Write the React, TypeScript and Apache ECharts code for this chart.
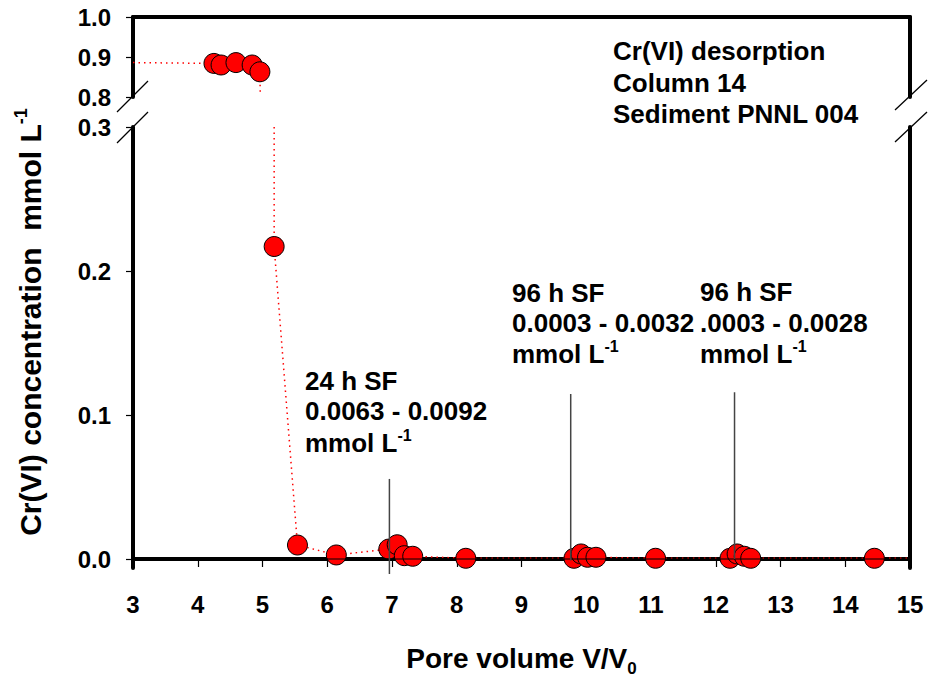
import React, { useEffect, useRef } from "react";
import * as echarts from "echarts";

// ---- data ----
const poreVolume = [4.25, 4.36, 4.59, 4.84, 4.96, 5.18, 5.54, 6.14, 6.95, 7.08, 7.19, 7.32, 8.14, 9.81, 9.92, 10.02, 10.15, 11.07, 12.22, 12.33, 12.44, 12.54, 14.45];
const concentration = [0.884, 0.88, 0.886, 0.88, 0.863, 0.217, 0.0097, 0.0028, 0.0069, 0.0099, 0.0023, 0.0019, 0.0005, 0.0005, 0.0035, 0.0012, 0.0012, 0.0005, 0.0005, 0.0035, 0.0019, 0.0005, 0.0005];

// dotted trend line ends (no symbol)
const leadIn = [3, 0.886];
const upperBreakEnd = [4.965, 0.81];
const lowerBreakStart = [5.18, 0.3];
const leadOut = [15, 0.0005];

// vertical annotation lines: x, bottom, top
const annoX = [6.96, 9.76, 12.29];
const annoBottom = [-0.0104, -0.001, 0];
const annoTop = [0.0556, 0.1146, 0.1158];

const upperTicks = [0.8, 0.9, 1.0];
const lowerTicks = [0, 0.1, 0.2, 0.3];
const xMin = 3;
const xMax = 15;

const annoLines1 = ["24 h SF", "0.0063 - 0.0092", "mmol L{sup|-1}"];
const annoLines2 = ["96 h SF", "0.0003 - 0.0032", "mmol L{sup|-1}"];
const annoLines3 = ["96 h SF", ".0003 - 0.0028", "mmol L{sup|-1}"];
const infoLines = ["Cr(VI) desorption", "Column 14", "Sediment PNNL 004"];

const FF = '"Liberation Sans", Arial, Helvetica, sans-serif';

export default function App() {
  const ref = useRef<HTMLDivElement>(null);

  useEffect(() => {
    if (!ref.current) return;
    const chart = echarts.init(ref.current, undefined, { renderer: "svg" });

    const pts = poreVolume.map((x, i) => [x, concentration[i]]);
    const upperPts = pts.filter((p) => p[1] >= 0.8);
    const lowerPts = pts.filter((p) => p[1] < 0.3);

    const noSym = (v: number[]) => ({ value: v, symbol: "none" });

    const upperData = [noSym(leadIn), ...upperPts.map((p) => ({ value: p })), noSym(upperBreakEnd)];
    const lowerData = [noSym(lowerBreakStart), ...lowerPts.map((p) => ({ value: p })), noSym(leadOut)];

    const seriesStyle = {
      type: "line",
      symbol: "circle",
      symbolSize: 20,
      showAllSymbol: true,
      itemStyle: { color: "#ff0000", borderColor: "#000", borderWidth: 1 },
      lineStyle: { color: "#ff0000", width: 1.5, type: [1.5, 4] },
      z: 2,
    };

    const bold = (size: number) => `bold ${size}px ${FF}`;

    const textLines = (lines: string[], x: number, ys: number[], size: number) =>
      lines.map((t, i) => ({
        type: "text",
        x,
        y: ys[i],
        z: 50,
        style: {
          text: t,
          font: bold(size),
          fill: "#000",
          align: "left",
          verticalAlign: "middle",
          rich: {
            sup: { font: bold(16), fill: "#000", padding: [0, 0, 16, 0] },
          },
        },
      }));

    const breakLine = (x1: number, y1: number, x2: number, y2: number) => ({
      type: "line",
      z: 50,
      shape: { x1, y1, x2, y2 },
      style: { stroke: "#000", lineWidth: 1.3 },
    });

    const axisLineStyle = { show: true, lineStyle: { color: "#000", width: 4 } };

    const option: any = {
      animation: false,
      backgroundColor: "#fff",
      grid: [
        { left: 133, right: 20, top: 17, height: 80 },
        { left: 133, right: 20, top: 127, height: 442 },
      ],
      xAxis: [
        {
          gridIndex: 0,
          type: "value",
          position: "top",
          min: xMin,
          max: xMax,
          interval: 1,
          axisLine: axisLineStyle,
          axisTick: { show: false },
          axisLabel: { show: false },
          splitLine: { show: false },
        },
        {
          gridIndex: 1,
          type: "value",
          position: "bottom",
          min: xMin,
          max: xMax,
          interval: 1,
          axisLine: axisLineStyle,
          axisTick: { show: true, inside: false, length: 8, lineStyle: { color: "#000", width: 1.2 } },
          axisLabel: { show: true, margin: 24, fontSize: 24, fontWeight: "bold", fontFamily: FF, color: "#000" },
          splitLine: { show: false },
          name: "Pore volume V/V{sub|0}",
          nameLocation: "middle",
          nameGap: 72,
          nameTextStyle: {
            fontSize: 28,
            fontWeight: "bold",
            fontFamily: FF,
            color: "#000",
            rich: {
              sub: { fontSize: 17, fontWeight: "bold", fontFamily: FF, color: "#000", padding: [20, 0, 0, 0] },
            },
          },
        },
      ],
      yAxis: [
        {
          gridIndex: 0,
          type: "value",
          position: "left",
          min: upperTicks[0],
          max: upperTicks[upperTicks.length - 1],
          interval: 0.1,
          axisLine: axisLineStyle,
          axisTick: { show: true, inside: false, length: 7, lineStyle: { color: "#000", width: 1.2 } },
          axisLabel: {
            show: true,
            margin: 22,
            fontSize: 24,
            fontWeight: "bold",
            fontFamily: FF,
            color: "#000",
            formatter: (v: number) => v.toFixed(1),
          },
          splitLine: { show: false },
        },
        {
          gridIndex: 0,
          type: "value",
          position: "right",
          min: upperTicks[0],
          max: upperTicks[upperTicks.length - 1],
          axisLine: axisLineStyle,
          axisTick: { show: false },
          axisLabel: { show: false },
          splitLine: { show: false },
        },
        {
          gridIndex: 1,
          type: "value",
          position: "left",
          min: -0.00625,
          max: lowerTicks[lowerTicks.length - 1],
          axisLine: axisLineStyle,
          axisTick: {
            show: true,
            inside: false,
            length: 7,
            customValues: lowerTicks,
            lineStyle: { color: "#000", width: 1.2 },
          },
          axisLabel: {
            show: true,
            margin: 22,
            fontSize: 24,
            fontWeight: "bold",
            fontFamily: FF,
            color: "#000",
            customValues: lowerTicks,
            formatter: (v: number) => v.toFixed(1),
          },
          splitLine: { show: false },
        },
        {
          gridIndex: 1,
          type: "value",
          position: "right",
          min: -0.00625,
          max: lowerTicks[lowerTicks.length - 1],
          axisLine: axisLineStyle,
          axisTick: { show: false },
          axisLabel: { show: false },
          splitLine: { show: false },
        },
      ],
      series: [
        { ...seriesStyle, name: "upper", xAxisIndex: 0, yAxisIndex: 0, data: upperData },
        { ...seriesStyle, name: "lower", xAxisIndex: 1, yAxisIndex: 2, data: lowerData },
        {
          type: "line",
          name: "zero",
          xAxisIndex: 1,
          yAxisIndex: 2,
          data: [[xMin, 0], [xMax, 0]],
          symbol: "none",
          lineStyle: { color: "#000", width: 1, type: "solid" },
          z: 5,
        },
        ...annoX.map((x, i) => ({
          type: "line",
          name: "anno" + i,
          xAxisIndex: 1,
          yAxisIndex: 2,
          clip: false,
          data: [[x, annoBottom[i]], [x, annoTop[i]]],
          symbol: "none",
          lineStyle: { color: "#444", width: 1.5, type: "solid" },
          z: 6,
        })),
      ],
      graphic: [
        {
          type: "text",
          x: 30,
          y: 322,
          rotation: Math.PI / 2,
          z: 50,
          style: {
            text: "Cr(VI) concentration  mmol L{sup|-1}",
            font: bold(30),
            fill: "#000",
            align: "center",
            verticalAlign: "middle",
            rich: { sup: { font: bold(18), fill: "#000", padding: [0, 0, 19, 0] } },
          },
        },
        ...textLines(infoLines, 613, [51, 83, 114], 26),
        ...textLines(annoLines1, 305, [381, 411, 443], 26),
        ...textLines(annoLines2, 512, [293, 323, 354], 26),
        ...textLines(annoLines3, 700, [292, 323, 354], 26),
        breakLine(117, 112, 148, 81),
        breakLine(117, 143, 148, 112),
        breakLine(895, 110, 927, 80),
        breakLine(895, 142, 927, 112),
      ],
    };

    chart.setOption(option);
    return () => chart.dispose();
  }, []);

  return <div ref={ref} style={{ width: 930, height: 682, position: "absolute", left: 0, top: 0 }} />;
}
